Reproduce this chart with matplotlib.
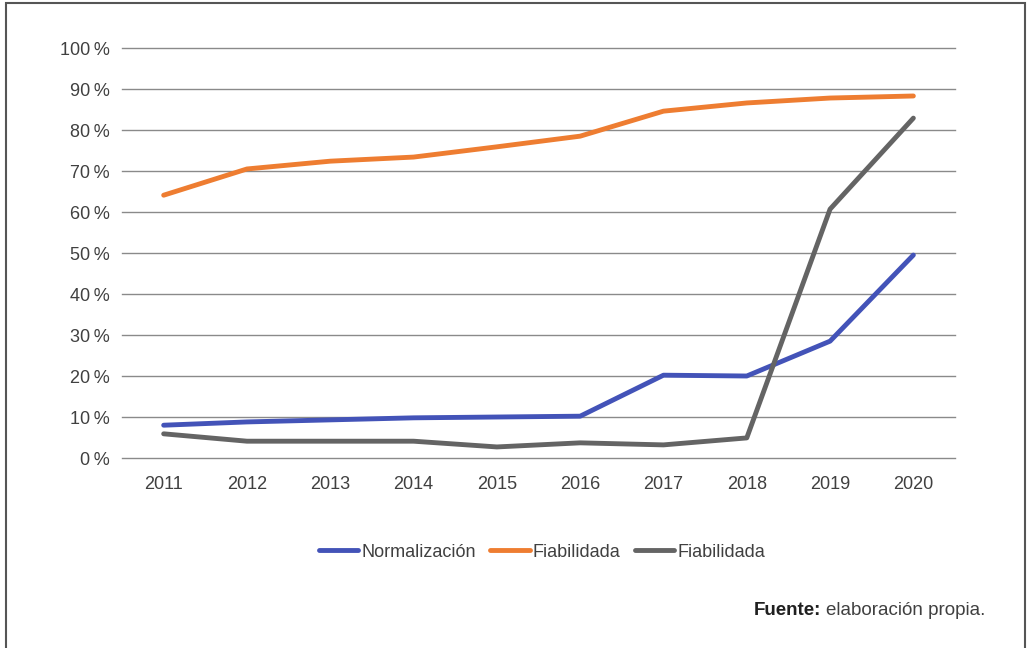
import matplotlib.pyplot as plt
from matplotlib.patches import Rectangle
from matplotlib.ticker import FuncFormatter

years = ['2011', '2012', '2013', '2014', '2015', '2016', '2017', '2018', '2019', '2020']
normalizacion = [8.0, 8.8, 9.3, 9.8, 10.0, 10.2, 20.2, 20.0, 28.5, 49.5]
fiabilidada_1 = [64.1, 70.5, 72.4, 73.4, 75.9, 78.5, 84.6, 86.6, 87.8, 88.3]
fiabilidada_2 = [5.9, 4.1, 4.1, 4.1, 2.7, 3.7, 3.2, 4.9, 60.7, 82.9]

plt.rcParams['font.family'] = ['Liberation Sans', 'DejaVu Sans']
text_color = '#404040'

fig = plt.figure(figsize=(10.28, 6.48), dpi=100)
ax = fig.add_axes([0.1187, 0.2932, 0.8103, 0.6327])

x = range(len(years))
ax.plot(x, normalizacion, color='#4353B8', lw=3.5, solid_capstyle='round', label='Normalización')
ax.plot(x, fiabilidada_1, color='#EE7D31', lw=3.5, solid_capstyle='round', label='Fiabilidada')
ax.plot(x, fiabilidada_2, color='#646464', lw=3.5, solid_capstyle='round', label='Fiabilidada')

ax.set_xlim(-0.5, len(years) - 0.5)
ax.set_ylim(0, 100)
ax.set_yticks(range(0, 101, 10))
ax.yaxis.set_major_formatter(FuncFormatter(lambda v, p: f'{int(v)}\u2009%'))
ax.set_xticks(list(x))
ax.set_xticklabels(years)
ax.grid(axis='y', color='#8a8a8a', lw=1)
ax.set_axisbelow(True)
for gl in ax.get_ygridlines():
    gl.set_clip_on(False)
for s in ax.spines.values():
    s.set_visible(False)
ax.tick_params(length=0, labelsize=13, colors=text_color)
ax.tick_params(axis='x', pad=13)
ax.tick_params(axis='y', pad=9)

leg = fig.legend(loc='center', bbox_to_anchor=(0.527, 0.148), ncol=3, frameon=False,
                 fontsize=13, handlelength=2.2, handletextpad=0.15, columnspacing=0.8)
for t in leg.get_texts():
    t.set_color(text_color)

# source note: bold label followed by normal text
fuente = fig.text(754 / 1028, 0.058, 'Fuente:', fontsize=13.5, fontweight='bold', color='#202020',
                  ha='left', va='center')
renderer = fig.canvas.get_renderer()
bb = fuente.get_window_extent(renderer)
fig.text((bb.x1 + 5) / 1028, 0.058, 'elaboración propia.', fontsize=13.5, color=text_color,
         ha='left', va='center')

fig.patches.append(Rectangle((6 / 1028, -0.05), 1019 / 1028, 1.05 - 3 / 648, transform=fig.transFigure,
                             fill=False, edgecolor='#555555', lw=1.5))

fig.savefig('out.png', dpi=100)
